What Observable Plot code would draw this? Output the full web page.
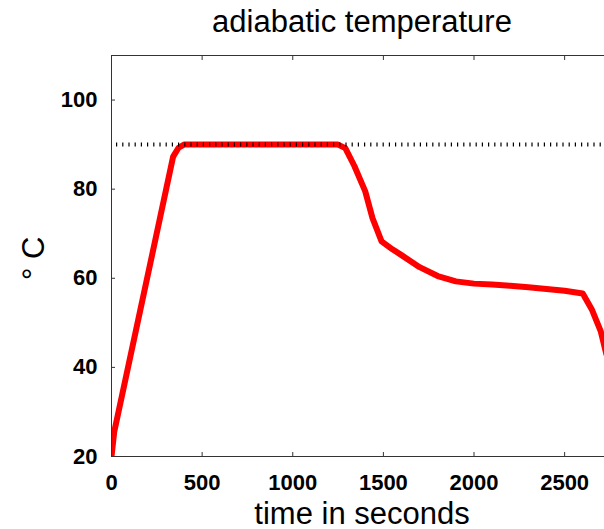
<!DOCTYPE html>
<html><head><meta charset="utf-8">
<script src="https://cdn.jsdelivr.net/npm/d3@7"></script>
<script src="https://cdn.jsdelivr.net/npm/@observablehq/plot@0.6"></script>
<style>html,body{margin:0;padding:0;background:#fff;overflow:hidden}</style>
</head><body><div id="chart"></div>
<script>
const timeSeconds = [0, 15, 340, 370, 400, 1250, 1290, 1340, 1400, 1440, 1490, 1550, 1600, 1700, 1800, 1900, 2000, 2100, 2200, 2300, 2400, 2500, 2600, 2650, 2700, 2730];
const temperatureC = [20, 25.5, 87.3, 89.3, 90, 90, 89.2, 85.2, 79.5, 73.5, 68.3, 66.5, 65.2, 62.5, 60.5, 59.3, 58.8, 58.6, 58.3, 58.0, 57.6, 57.2, 56.6, 53.0, 48.0, 43.0];
const limitTemperature = [90];
const xTicks = [0, 500, 1000, 1500, 2000, 2500];
const yTicks = [20, 40, 60, 80, 100];
const xDomain = [0, 2720];
const yDomain = [20, 110];
const titleText = ["adiabatic temperature"];
const xLabelText = ["time in seconds"];
const yLabelText = ["° C"];

const data = timeSeconds.map((t, i) => ({t, T: temperatureC[i]}));
const axisColor = "#333";
const fmt = d3.format("d");

const chart = Plot.plot({
  width: 604, height: 529,
  marginTop: 55, marginBottom: 73, marginLeft: 111, marginRight: 0,
  style: {fontFamily: "'Liberation Sans', Arial, sans-serif", background: "#fff", color: "#000", overflow: "visible"},
  x: {domain: xDomain, label: null},
  y: {domain: yDomain, label: null},
  marks: [
    Plot.line(data, {x: "t", y: "T", stroke: "#ff0000", strokeWidth: 6, strokeLinejoin: "round", clip: true}),
    Plot.ruleY(limitTemperature, {stroke: "#000", strokeWidth: 4, strokeDasharray: "1.2,5", strokeDashoffset: 1.2}),
    Plot.ruleY([yDomain[0], yDomain[1]], {stroke: axisColor, strokeWidth: 1}),
    Plot.ruleX([xDomain[0]], {stroke: axisColor, strokeWidth: 1}),
    Plot.axisX({anchor: "bottom", ticks: xTicks, tickFormat: fmt, tickSize: -4, tickPadding: 22, fontSize: 22, fontWeight: "bold", stroke: axisColor, fill: "#000", label: null}),
    Plot.axisX({anchor: "top", ticks: xTicks, tickSize: -4, tickFormat: () => "", stroke: axisColor, label: null}),
    Plot.axisY({anchor: "left", ticks: yTicks, tickFormat: fmt, tickSize: -4, tickPadding: 18, fontSize: 22, fontWeight: "bold", stroke: axisColor, fill: "#000", label: null}),
    Plot.text(titleText, {text: d => d, frameAnchor: "top", dx: 4, dy: -24, lineAnchor: "bottom", fontSize: 31, fill: "#000"}),
    Plot.text(xLabelText, {text: d => d, frameAnchor: "bottom", dx: 4, dy: 67, lineAnchor: "bottom", fontSize: 31, fill: "#000"}),
    Plot.text(yLabelText, {text: d => d, frameAnchor: "left", rotate: -90, dx: -68, dy: 24, lineAnchor: "bottom", fontSize: 31, fill: "#000"})
  ]
});
document.getElementById("chart").appendChild(chart);
</script>
</body></html>
